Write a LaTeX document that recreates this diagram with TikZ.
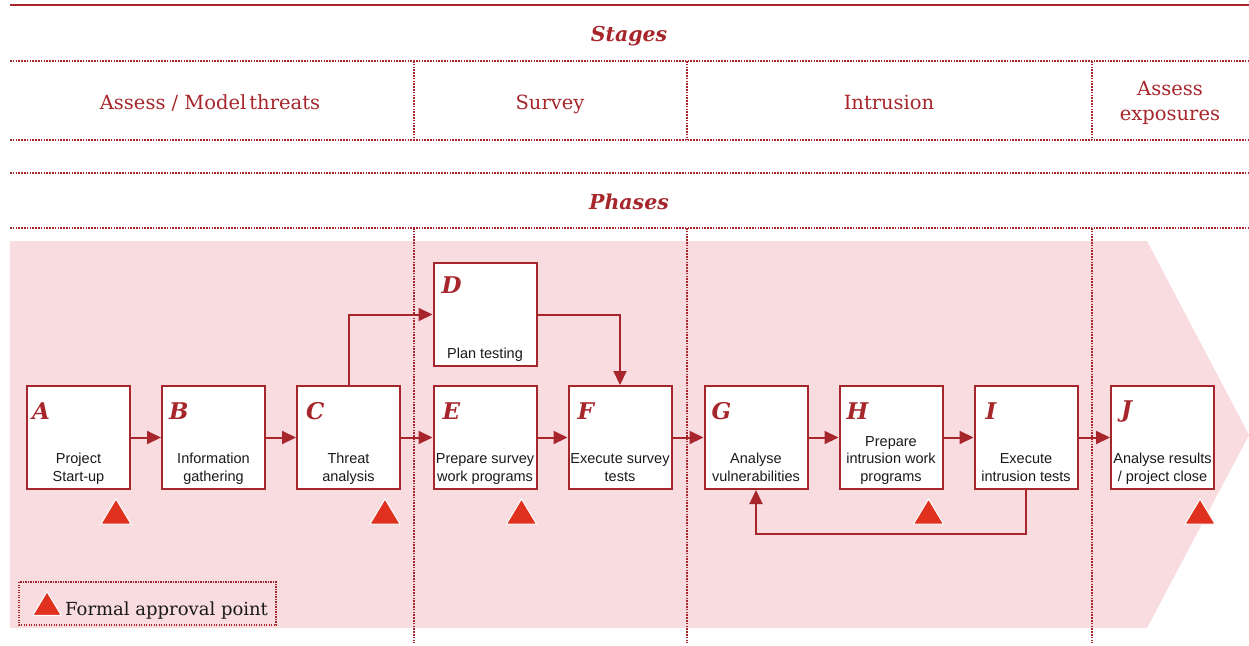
\documentclass[tikz,border=0pt]{standalone}
\usepackage{fontspec}
\setmainfont{DejaVu Serif}
\newfontfamily\boxfont{Liberation Sans}
\usetikzlibrary{arrows.meta,calc}
\definecolor{deepred}{HTML}{A6262B}
\definecolor{pinkbg}{HTML}{F8DCE0}
\definecolor{flagred}{HTML}{E0301E}
\definecolor{ink}{HTML}{1A1A1A}

\begin{document}
\begin{tikzpicture}[x=1pt,y=-1pt,
  rule/.style={draw=deepred, line width=1.6pt, dash pattern=on 1.5pt off 1.3pt},
  heading/.style={text=deepred, font=\fontsize{20.5}{24}\selectfont\bfseries\itshape, inner sep=0},
  stagename/.style={text=deepred, font=\fontsize{19.5}{24.5}\selectfont, align=center, inner sep=0},
  phasebox/.style={draw=deepred, fill=white, line width=2pt, minimum width=103pt, minimum height=103pt, inner sep=0},
  letter/.style={text=deepred, font=\fontsize{23}{23}\selectfont\bfseries\itshape, inner sep=0, anchor=base west},
  boxtext/.style={text=ink, font=\boxfont\fontsize{14.5}{17.3}\selectfont, align=center, inner sep=0, anchor=base},
  flow/.style={draw=deepred, line width=2pt, -{Triangle[length=14pt,width=13pt]}},
  flag/.pic={\filldraw[fill=flagred, draw=white, line width=1pt] (-15,12.5) -- (15,12.5) -- (0,-12.5) -- cycle;}
]
\useasboundingbox (0,0) rectangle (1249,645);

% chevron background of the phases
\fill[pinkbg] (10,241) -- (1147,241) -- (1249,435) -- (1147,628) -- (10,628) -- cycle;

% top rule and dotted grid
\draw[deepred, line width=2.2pt] (10,5) -- (1249,5);
\foreach \y in {61,140,173,228} \draw[rule] (10,\y) -- (1249,\y);
\foreach \x in {414,687,1092} {
  \draw[rule] (\x,61) -- (\x,140);
  \draw[rule] (\x,228) -- (\x,643);
}

% headings
\node[heading, anchor=base] (stages) at (629,41) {Stages};
\node[heading, anchor=base] (phases) at (629,209) {Phases};

% stage names
\node[stagename, anchor=base] (s1) at (210,109) {Assess / Model\hspace{0.15em}threats};
\node[stagename, anchor=base] (s2) at (550,109) {Survey};
\node[stagename, anchor=base] (s3) at (889,109) {Intrusion};
\node[stagename, anchor=base] (s4) at (1170,120) {Assess\\exposures};

% phase boxes
\node[phasebox] (A) at (78.5,437.5) {};
\node[phasebox] (B) at (213.5,437.5) {};
\node[phasebox] (C) at (348.5,437.5) {};
\node[phasebox] (D) at (485,314.5) {};
\node[phasebox] (E) at (485,437.5) {};
\node[phasebox] (F) at (620,437.5) {};
\node[phasebox] (G) at (756,437.5) {};
\node[phasebox] (H) at (891,437.5) {};
\node[phasebox] (I) at (1026,437.5) {};
\node[phasebox] (J) at (1162.5,437.5) {};

% phase letters
\node[letter] (lA) at ($(A.north west)+(6,34)$) {A};
\node[letter] (lB) at ($(B.north west)+(8,34)$) {B};
\node[letter] (lC) at ($(C.north west)+(10,34)$) {C};
\node[letter] (lD) at ($(D.north west)+(9,31)$) {D};
\node[letter] (lE) at ($(E.north west)+(10,34)$) {E};
\node[letter] (lF) at ($(F.north west)+(10,34)$) {F};
\node[letter] (lG) at ($(G.north west)+(8,34)$) {G};
\node[letter] (lH) at ($(H.north west)+(8,34)$) {H};
\node[letter] (lI) at ($(I.north west)+(12,34)$) {I};
\node[letter] (lJ) at ($(J.north west)+(11,32)$) {J};

% phase descriptions, last baseline 9pt above the box bottom
\node[boxtext] (tA) at ($(A.south)+(0,-9)$) {Project\\Start-up};
\node[boxtext] (tB) at ($(B.south)+(0,-9)$) {Information\\gathering};
\node[boxtext] (tC) at ($(C.south)+(0,-9)$) {Threat\\analysis};
\node[boxtext] (tD) at ($(D.south)+(0,-9)$) {Plan testing};
\node[boxtext] (tE) at ($(E.south)+(0,-9)$) {Prepare survey\\work programs};
\node[boxtext] (tF) at ($(F.south)+(0,-9)$) {Execute survey\\tests};
\node[boxtext] (tG) at ($(G.south)+(0,-9)$) {Analyse\\vulnerabilities};
\node[boxtext] (tH) at ($(H.south)+(0,-9)$) {Prepare\\intrusion work\\programs};
\node[boxtext] (tI) at ($(I.south)+(0,-9)$) {Execute\\intrusion tests};
\node[boxtext] (tJ) at ($(J.south)+(0,-9)$) {Analyse results\\/ project close};

% flow between phases
\draw[flow] (A) -- (B);
\draw[flow] (B) -- (C);
\draw[flow] (C) -- (E);
\draw[flow] (E) -- (F);
\draw[flow] (F) -- (G);
\draw[flow] (G) -- (H);
\draw[flow] (H) -- (I);
\draw[flow] (I) -- (J);
\draw[flow] (C.north) |- (D.west);
\draw[flow] (D.east) -| (F.north);
\draw[flow] (I.south) -- ++(0,44) -| (G.south);

% formal approval points
\pic at ($(A.south east)+(-15,21.5)$) {flag};
\pic at ($(C.south east)+(-16,21.5)$) {flag};
\pic at ($(E.south east)+(-16,21.5)$) {flag};
\pic at ($(H.south east)+(-15,21.5)$) {flag};
\pic at ($(J.south east)+(-15,21.5)$) {flag};

% legend
\draw[rule, line width=1.3pt, dash pattern=on 1.3pt off 1.2pt] (19,582) rectangle (276,625);
\pic[scale=0.95] at (47,603.5) {flag};
\node[anchor=base west, inner sep=0, text=ink, font=\fontsize{18}{20}\selectfont] (legend) at (65,615) {Formal approval point};
\end{tikzpicture}
\end{document}
